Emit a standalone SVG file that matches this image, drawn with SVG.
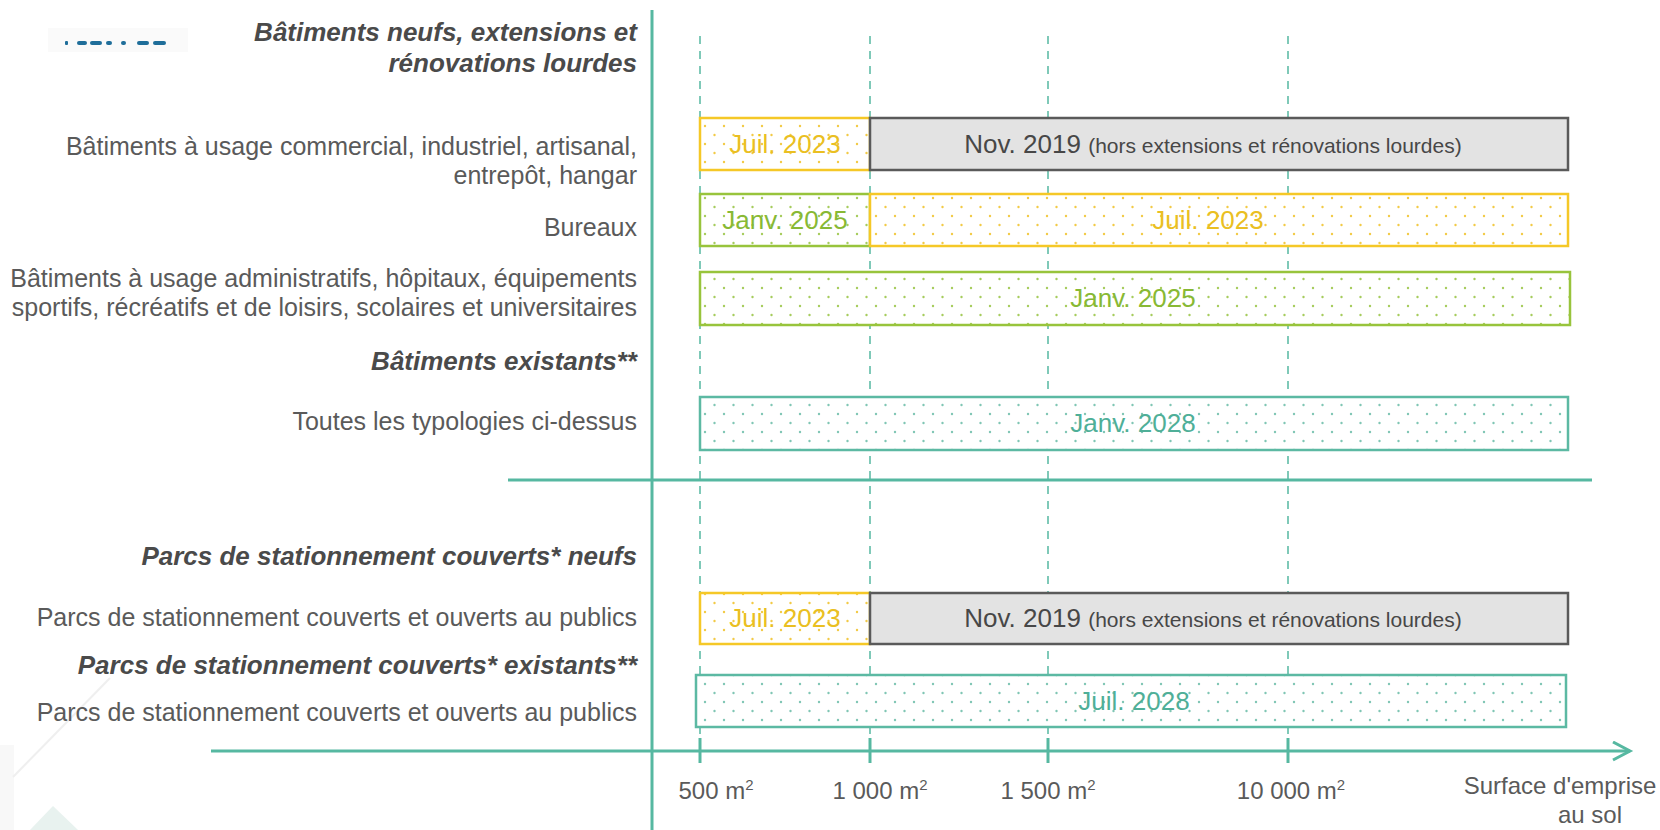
<svg xmlns="http://www.w3.org/2000/svg" width="1660" height="830" viewBox="0 0 1660 830">
<style>
.lbl{font-family:"Liberation Sans",Arial,sans-serif;font-size:25px;fill:#5a5a5a;text-anchor:end}
.hd{font-family:"Liberation Sans",Arial,sans-serif;font-size:26px;fill:#4a4a4a;font-weight:bold;font-style:italic;text-anchor:end}
.bt{font-family:"Liberation Sans",Arial,sans-serif;font-size:26px;text-anchor:middle}
.ax{font-family:"Liberation Sans",Arial,sans-serif;font-size:24px;fill:#5a5a5a;text-anchor:middle}
.sup{font-size:15px}
.sm{font-size:21px}
.axis{stroke:#56B8A1;stroke-width:3;fill:none}
.dash{stroke:#56B8A1;stroke-width:1.5;stroke-dasharray:8 7;fill:none}
.tick{stroke:#56B8A1;stroke-width:3}
.y{stroke:#F5C827;stroke-width:2.5}
.g{stroke:#98C43C;stroke-width:2.5}
.t{stroke:#5CB9A3;stroke-width:2.5}
.gr{fill:#E3E3E3;stroke:#5a5a5a;stroke-width:2.5}
</style>
<defs>
<pattern id="dy" x="700" y="120" width="19" height="18" patternUnits="userSpaceOnUse"><rect width="19" height="18" fill="#fff"/><circle cx="5" cy="6" r="1.2" fill="#F2CA45"/><circle cx="14.5" cy="15" r="1.2" fill="#F2CA45"/></pattern>
<pattern id="dg" x="700" y="120" width="19" height="18" patternUnits="userSpaceOnUse"><rect width="19" height="18" fill="#fff"/><circle cx="5" cy="6" r="1.2" fill="#A6CC5C"/><circle cx="14.5" cy="15" r="1.2" fill="#A6CC5C"/></pattern>
<pattern id="dt" x="700" y="120" width="19" height="18" patternUnits="userSpaceOnUse"><rect width="19" height="18" fill="#fff"/><circle cx="5" cy="6" r="1.2" fill="#7FC6B4"/><circle cx="14.5" cy="15" r="1.2" fill="#7FC6B4"/></pattern>
<marker id="arr" markerWidth="24" markerHeight="24" refX="18" refY="10" orient="auto" markerUnits="userSpaceOnUse"><path d="M1,1 L18,10 L1,19" fill="none" stroke="#56B8A1" stroke-width="3"/></marker>
</defs>
<rect width="1660" height="830" fill="#fff"/>
<g id="decor">
<rect x="48" y="28" width="140" height="24" fill="#fafafa"/>
<g fill="#1F6E9A">
<rect x="65" y="41" width="3" height="4" rx="1"/>
<rect x="77" y="41" width="10" height="4" rx="2"/>
<rect x="90" y="41" width="12" height="4" rx="2"/>
<rect x="106" y="41" width="6" height="4" rx="2"/>
<rect x="121" y="41" width="5" height="4" rx="2"/>
<rect x="137" y="41" width="12" height="4" rx="2"/>
<rect x="153" y="41" width="13" height="4" rx="2"/>
</g>
<rect x="0" y="745" width="14" height="85" fill="#f8f8f8"/>
<line x1="110" y1="678" x2="13" y2="777" stroke="#efefef" stroke-width="2"/>
<polygon points="53,806 78,830 30,830" fill="#E8F2EF"/>
</g>
<g id="connectors">
<line class="dash" x1="700" y1="36" x2="700" y2="751"/>
<line class="dash" x1="870" y1="36" x2="870" y2="751"/>
<line class="dash" x1="1048" y1="36" x2="1048" y2="751"/>
<line class="dash" x1="1288" y1="36" x2="1288" y2="751"/>
<line class="axis" x1="652" y1="10" x2="652" y2="830"/>
<line class="axis" x1="508" y1="480" x2="1592" y2="480"/>
<line class="axis" x1="211" y1="751" x2="1630" y2="751" marker-end="url(#arr)"/>
<line class="tick" x1="700" y1="738" x2="700" y2="763"/>
<line class="tick" x1="870" y1="738" x2="870" y2="763"/>
<line class="tick" x1="1048" y1="738" x2="1048" y2="763"/>
<line class="tick" x1="1288" y1="738" x2="1288" y2="763"/>
</g>
<g id="labels">
<text class="hd" x="637" y="41">Bâtiments neufs, extensions et</text>
<text class="hd" x="637" y="72">rénovations lourdes</text>
<text class="lbl" x="637" y="155">Bâtiments à usage commercial, industriel, artisanal,</text>
<text class="lbl" x="637" y="184">entrepôt, hangar</text>
<text class="lbl" x="637" y="236">Bureaux</text>
<text class="lbl" x="637" y="287">Bâtiments à usage administratifs, hôpitaux, équipements</text>
<text class="lbl" x="637" y="316">sportifs, récréatifs et de loisirs, scolaires et universitaires</text>
<text class="hd" x="637" y="370">Bâtiments existants**</text>
<text class="lbl" x="637" y="430">Toutes les typologies ci-dessus</text>
<text class="hd" x="637" y="565">Parcs de stationnement couverts* neufs</text>
<text class="lbl" x="637" y="626">Parcs de stationnement couverts et ouverts au publics</text>
<text class="hd" x="637" y="674">Parcs de stationnement couverts* existants**</text>
<text class="lbl" x="637" y="721">Parcs de stationnement couverts et ouverts au publics</text>
</g>
<g id="row1">
<rect class="y" x="700" y="118" width="170" height="52" fill="url(#dy)"/>
<text class="bt" x="785" y="153" fill="#EABF22">Juil. 2023</text>
<rect class="gr" x="870" y="118" width="698" height="52"/>
<text class="bt" x="1213" y="153" fill="#474747">Nov. 2019 <tspan class="sm">(hors extensions et rénovations lourdes)</tspan></text>
</g>
<g id="row2">
<rect class="g" x="700" y="194" width="170" height="52" fill="url(#dg)"/>
<text class="bt" x="785" y="229" fill="#88B934">Janv. 2025</text>
<rect class="y" x="870" y="194" width="698" height="52" fill="url(#dy)"/>
<text class="bt" x="1208" y="229" fill="#EABF22">Juil. 2023</text>
</g>
<g id="row3">
<rect class="g" x="700" y="272" width="870" height="53" fill="url(#dg)"/>
<text class="bt" x="1133" y="307" fill="#88B934">Janv. 2025</text>
</g>
<g id="row4">
<rect class="t" x="700" y="397" width="868" height="53" fill="url(#dt)"/>
<text class="bt" x="1133" y="432" fill="#4FAF98">Janv. 2028</text>
</g>
<g id="row5">
<rect class="y" x="700" y="593" width="170" height="51" fill="url(#dy)"/>
<text class="bt" x="785" y="627" fill="#EABF22">Juil. 2023</text>
<rect class="gr" x="870" y="593" width="698" height="51"/>
<text class="bt" x="1213" y="627" fill="#474747">Nov. 2019 <tspan class="sm">(hors extensions et rénovations lourdes)</tspan></text>
</g>
<g id="row6">
<rect class="t" x="696" y="675" width="870" height="52" fill="url(#dt)"/>
<text class="bt" x="1134" y="710" fill="#4FAF98">Juil. 2028</text>
</g>
<g id="axis-labels">
<text class="ax" x="716" y="799">500 m<tspan class="sup" dy="-9">2</tspan></text>
<text class="ax" x="880" y="799">1 000 m<tspan class="sup" dy="-9">2</tspan></text>
<text class="ax" x="1048" y="799">1 500 m<tspan class="sup" dy="-9">2</tspan></text>
<text class="ax" x="1291" y="799">10 000 m<tspan class="sup" dy="-9">2</tspan></text>
<text class="ax" x="1560" y="794">Surface d'emprise</text>
<text class="ax" x="1590" y="823">au sol</text>
</g>
</svg>
